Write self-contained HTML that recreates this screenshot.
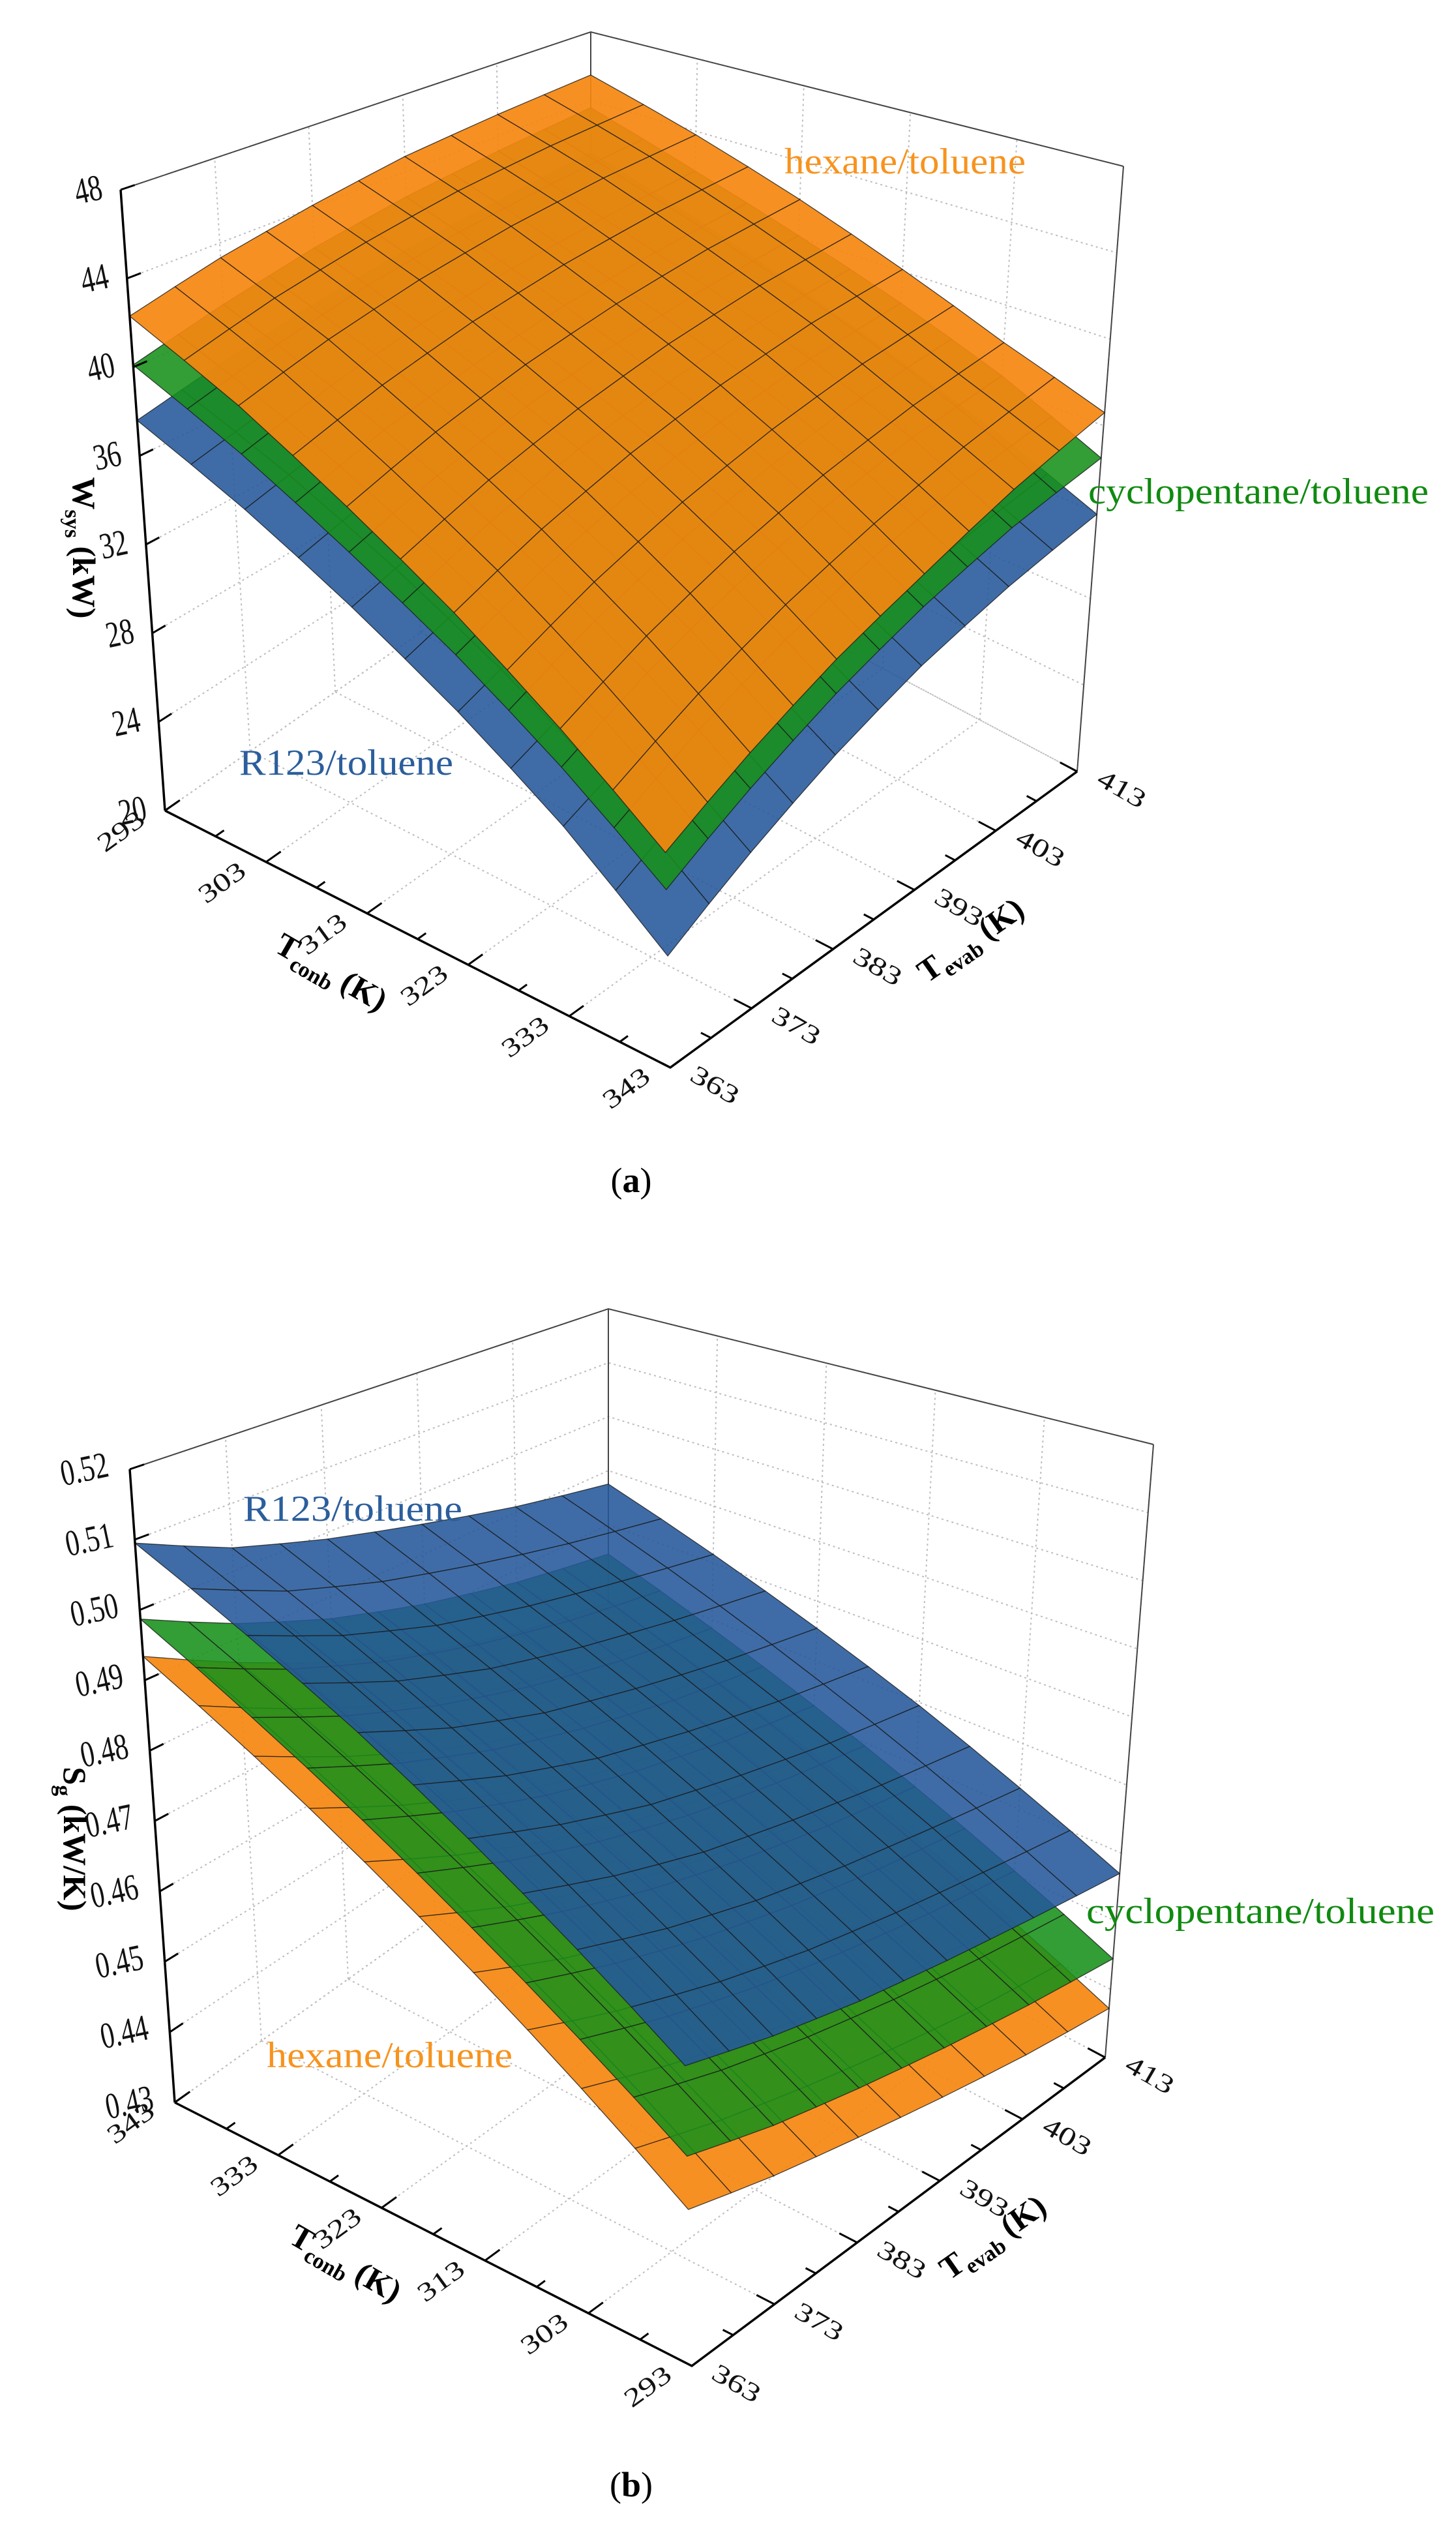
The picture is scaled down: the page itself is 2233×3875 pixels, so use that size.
<!DOCTYPE html>
<html><head><meta charset="utf-8">
<style>
html,body{margin:0;padding:0;background:#fff;}
svg{display:block;}
text{font-family:"Liberation Serif",serif;}
</style></head>
<body>
<svg id="chart" width="2233" height="3875" viewBox="0 0 2233 3875" xmlns="http://www.w3.org/2000/svg">
<g id="pa"></g>
<g id="pb"></g>
</svg>
<script>
const tcomb=[293,303,313,323,333,343];
const tevap=[363,373,383,393,403,413];
const zTicksA=[20,24,28,32,36,40,44,48];
const zTicksB=[0.43,0.44,0.45,0.46,0.47,0.48,0.49,0.50,0.51,0.52];
const zLabelsB=["0.43","0.44","0.45","0.46","0.47","0.48","0.49","0.50","0.51","0.52"];
// panel a: W_sys (kW), rows = tcomb, cols = tevap
const wR123=[[37.6,38.5,39.3,40.0,40.5,41.0],[35.3,36.4,37.3,38.1,38.7,39.2],[32.8,34.1,35.2,36.1,36.9,37.4],[30.2,31.7,32.9,34.0,34.9,35.6],[27.4,29.0,30.5,31.8,32.9,33.8],[24.2,26.1,27.9,29.5,30.8,31.9]];
const wCyclo=[[40.1,41.1,42.0,42.7,43.2,43.6],[37.7,38.9,39.9,40.7,41.3,41.8],[35.1,36.5,37.7,38.7,39.5,40.1],[32.5,34.1,35.5,36.7,37.7,38.4],[29.7,31.5,33.1,34.5,35.7,36.6],[26.7,28.6,30.4,32.0,33.4,34.5]];
const wHexane=[[42.3,43.3,44.1,44.8,45.2,45.5],[39.8,41.0,42.0,42.8,43.4,43.8],[37.0,38.4,39.6,40.6,41.4,42.0],[34.2,35.8,37.2,38.4,39.4,40.1],[31.2,33.0,34.6,36.0,37.2,38.2],[28.1,30.0,31.8,33.4,35.1,36.6]];
// panel b: S_g (kW/K)
const sR123=[[.4655,.4630,.4610,.4595,.4582,.4570],[.4745,.4712,.4685,.4665,.4648,.4632],[.4835,.4795,.4760,.4735,.4712,.4695],[.4925,.4875,.4835,.4805,.4778,.4755],[.5010,.4955,.4910,.4875,.4845,.4815],[.5095,.5035,.4990,.4950,.4910,.4875]];
const sCyclo=[[.4548,.4520,.4498,.4478,.4460,.4445],[.4635,.4600,.4570,.4545,.4523,.4505],[.4722,.4680,.4643,.4612,.4586,.4565],[.4810,.4760,.4716,.4680,.4650,.4625],[.4898,.4840,.4790,.4748,.4713,.4685],[.4987,.4922,.4865,.4818,.4778,.4745]];
const sHexane=[[.4485,.4458,.4435,.4412,.4390,.4372],[.4575,.4538,.4505,.4476,.4450,.4430],[.4665,.4618,.4577,.4541,.4510,.4488],[.4755,.4700,.4650,.4606,.4570,.4545],[.4845,.4782,.4723,.4672,.4630,.4600],[.4934,.4864,.4797,.4738,.4690,.4655]];

const NS="http://www.w3.org/2000/svg";
function mk(parent,tag,attrs,txt){const e=document.createElementNS(NS,tag);for(const k in attrs)e.setAttribute(k,attrs[k]);if(txt!==undefined)e.textContent=txt;parent.appendChild(e);return e;}

const geomA={L:{f:[253,1243],t:[185,291]},F:{f:[1028,1637],t:[1002,497]},R:{f:[1652,1183],t:[1723,255]},B:{f:[906,788],t:[906,49]},zmin:20,zmax:48,rev:false};
const geomB={L:{f:[268,3224],t:[199,2253]},F:{f:[1061,3628],t:[1035,2461]},R:{f:[1695,3155],t:[1769,2215]},B:{f:[933,2751],t:[933,2007]},zmin:0.43,zmax:0.52,rev:true};

function bil(g,key,u,v,i){return g.L[key][i]*(1-u)*(1-v)+g.F[key][i]*u*(1-v)+g.R[key][i]*u*v+g.B[key][i]*(1-u)*v;}
function P(g,u,v,t){const fx=bil(g,'f',u,v,0),fy=bil(g,'f',u,v,1),tx=bil(g,'t',u,v,0),ty=bil(g,'t',u,v,1);return [fx+(tx-fx)*t,fy+(ty-fy)*t];}
function uOf(g,tc){return g.rev?(343-tc)/50:(tc-293)/50;}
function vOf(te){return (te-363)/50;}
function tOf(g,z){return (z-g.zmin)/(g.zmax-g.zmin);}
function pts(a){return a.map(p=>p[0].toFixed(1)+','+p[1].toFixed(1)).join(' ');}

function frame(root,g,pname){
  const grid=mk(root,'g',{stroke:'#bdbdbd','stroke-width':2,'stroke-dasharray':'3,5',fill:'none'});
  
  
  const zt=g.rev?zTicksB:zTicksA;
  zt.forEach(z=>{const t=tOf(g,z);
    mk(grid,'polyline',{points:pts([P(g,0,0,t),P(g,0,1,t),P(g,1,1,t)])});});
  tevap.forEach(te=>{const v=vOf(te);
    mk(grid,'line',{x1:P(g,0,v,0)[0],y1:P(g,0,v,0)[1],x2:P(g,0,v,1)[0],y2:P(g,0,v,1)[1]});
    mk(grid,'line',{x1:P(g,0,v,0)[0],y1:P(g,0,v,0)[1],x2:P(g,1,v,0)[0],y2:P(g,1,v,0)[1]});});
  tcomb.forEach(tc=>{const u=uOf(g,tc);
    mk(grid,'line',{x1:P(g,u,1,0)[0],y1:P(g,u,1,0)[1],x2:P(g,u,1,1)[0],y2:P(g,u,1,1)[1]});
    mk(grid,'line',{x1:P(g,u,0,0)[0],y1:P(g,u,0,0)[1],x2:P(g,u,1,0)[0],y2:P(g,u,1,0)[1]});});
  const box=mk(root,'g',{stroke:'#444','stroke-width':2,fill:'none'});
  
  
  mk(box,'polyline',{points:pts([g.L.t,g.B.t,g.R.t])});
  mk(box,'line',{x1:g.B.t[0],y1:g.B.t[1],x2:g.B.f[0],y2:g.B.f[1]});
  mk(box,'line',{x1:g.R.t[0],y1:g.R.t[1],x2:g.R.f[0],y2:g.R.f[1]});
}

function surface(root,g,data,color,op,name){
  const s=mk(root,'g',{fill:color,'fill-opacity':op,stroke:'#1a1a1a','stroke-width':1.3,'stroke-opacity':0.8});
  
  
  const cells=[];
  const n=tcomb.length, m=tevap.length, sub=2;
  function val(i,j,a,b){return data[i][j]*(1-a)*(1-b)+data[i+1][j]*a*(1-b)+data[i+1][j+1]*a*b+data[i][j+1]*(1-a)*b;}
  for(let i=0;i<n-1;i++)for(let j=0;j<m-1;j++)for(let a=0;a<sub;a++)for(let b=0;b<sub;b++){
    const corner=(da,db)=>{const A=(a+da)/sub,Bb=(b+db)/sub;
      const tc=tcomb[i]+(tcomb[i+1]-tcomb[i])*A, te=tevap[j]+(tevap[j+1]-tevap[j])*Bb;
      const u=uOf(g,tc),v=vOf(te);return {u,v,p:P(g,u,v,tOf(g,val(i,j,A,Bb)))};};
    const c=[corner(0,0),corner(1,0),corner(1,1),corner(0,1)];
    const du=c.reduce((s,q)=>s+q.u,0)/4, dv=c.reduce((s,q)=>s+q.v,0)/4;
    cells.push({d:du+(1-dv),p:c.map(q=>q.p)});
  }
  cells.sort((x,y)=>x.d-y.d);
  cells.forEach(c=>{const q=mk(s,'polygon',{points:pts(c.p)});
    
    });
}

function axes(root,g,pname,zLabels){
  const ax=mk(root,'g',{stroke:'#000','stroke-width':3.5,fill:'none'});
  
  
  mk(ax,'line',{x1:g.L.f[0],y1:g.L.f[1],x2:g.L.t[0],y2:g.L.t[1]});
  mk(ax,'polyline',{points:pts([g.L.f,g.F.f,g.R.f])});
  const zt=g.rev?zTicksB:zTicksA;
  const lab=mk(root,'g',{'font-size':42,fill:'#111','text-anchor':'middle'});
  
  
  zt.forEach((z,k)=>{const t=tOf(g,z);const a=P(g,0,0,t),b=P(g,0,0.03,t);
    mk(ax,'line',{x1:a[0],y1:a[1],x2:b[0],y2:b[1],'stroke-width':3});
    const x=a[0]-(g.rev?66:46),y=a[1]+18;
    const tx=mk(lab,'text',{x:0,y:0,transform:`translate(${x},${y}) rotate(-12) scale(1,1.35)`},zLabels[k]);
    
    });
  for(let tc=293;tc<=343;tc+=5){const u=uOf(g,tc);const a=P(g,u,0,0),b=P(g,u,tc%10===3?0.035:0.02,0);
    mk(ax,'line',{x1:a[0],y1:a[1],x2:b[0],y2:b[1],'stroke-width':3});
    if(tc%10===3){const x=a[0]-60,y=a[1]+42;
      const tx=mk(lab,'text',{x:0,y:0,transform:`translate(${x},${y}) rotate(-36) scale(1.25,0.95)`},String(tc));
      
      }}
  for(let te=363;te<=413;te+=5){const v=vOf(te);const a=P(g,1,v,0),b=P(g,te%10===3?0.965:0.98,v,0);
    mk(ax,'line',{x1:a[0],y1:a[1],x2:b[0],y2:b[1],'stroke-width':3});
    if(te%10===3){const x=a[0]+62,y=a[1]+38;
      const tx=mk(lab,'text',{x:0,y:0,transform:`translate(${x},${y}) rotate(30) scale(1.25,0.95)`},String(te));
      
      }}
}

function title(root,x,y,rot,main,sub,rest,name){
  const t=mk(root,'text',{x:0,y:0,transform:`translate(${x},${y}) rotate(${rot})`,'font-size':50,'font-weight':'bold','text-anchor':'middle',fill:'#000'});
  
  
  mk(t,'tspan',{},main);
  mk(t,'tspan',{'font-size':34,dy:12},sub);
  mk(t,'tspan',{dy:-12},rest);
}
function slabel(root,x,y,w,txt,color,name){
  const t=mk(root,'text',{x:x,y:y,'font-size':56,fill:color,textLength:w,lengthAdjust:'spacingAndGlyphs'},txt);
  
  
}

const ORANGE='#f5870f',GREEN='#17901a',BLUE='#24589a';
// Panel A
const pa=document.getElementById('pa');
frame(pa,geomA,'panel-a');
surface(pa,geomA,wR123,BLUE,0.88,'surface-r123-toluene');
surface(pa,geomA,wCyclo,GREEN,0.88,'surface-cyclopentane-toluene');
surface(pa,geomA,wHexane,ORANGE,0.92,'surface-hexane-toluene');
axes(pa,geomA,'panel-a',zTicksA.map(String));
title(pa,112,840,90,'W','sys',' (kW)','z-axis-title');
title(pa,500,1505,30,'T','conb',' (K)','tcomb-axis-title');
title(pa,1498,1455,-35,'T','evab',' (K)','tevap-axis-title');
slabel(pa,1203,266,370,'hexane/toluene','#f7931e','label-hexane-toluene');
slabel(pa,1669,772,522,'cyclopentane/toluene','#108a10','label-cyclopentane-toluene');
slabel(pa,367,1188,328,'R123/toluene','#2b5e9c','label-r123-toluene');
const ca=mk(pa,'text',{x:968,y:1828,'font-size':54,'text-anchor':'middle',fill:'#000'});


mk(ca,'tspan',{},'(');mk(ca,'tspan',{'font-weight':'bold'},'a');mk(ca,'tspan',{},')');

// Panel B
const pb=document.getElementById('pb');
frame(pb,geomB,'panel-b');
surface(pb,geomB,sHexane,ORANGE,0.92,'surface-hexane-toluene');
surface(pb,geomB,sCyclo,GREEN,0.88,'surface-cyclopentane-toluene');
surface(pb,geomB,sR123,BLUE,0.88,'surface-r123-toluene');
axes(pb,geomB,'panel-b',zLabelsB);
title(pb,98,2820,90,'S','g',' (kW/K)','z-axis-title');
title(pb,522,3485,30,'T','conb',' (K)','tcomb-axis-title');
title(pb,1532,3444,-35,'T','evab',' (K)','tevap-axis-title');
slabel(pb,373,2332,336,'R123/toluene','#2b5e9c','label-r123-toluene');
slabel(pb,1666,2949,534,'cyclopentane/toluene','#108a10','label-cyclopentane-toluene');
slabel(pb,409,3170,377,'hexane/toluene','#f7931e','label-hexane-toluene');
const cb=mk(pb,'text',{x:968,y:3828,'font-size':54,'text-anchor':'middle',fill:'#000'});


mk(cb,'tspan',{},'(');mk(cb,'tspan',{'font-weight':'bold'},'b');mk(cb,'tspan',{},')');
</script>
</body></html>
